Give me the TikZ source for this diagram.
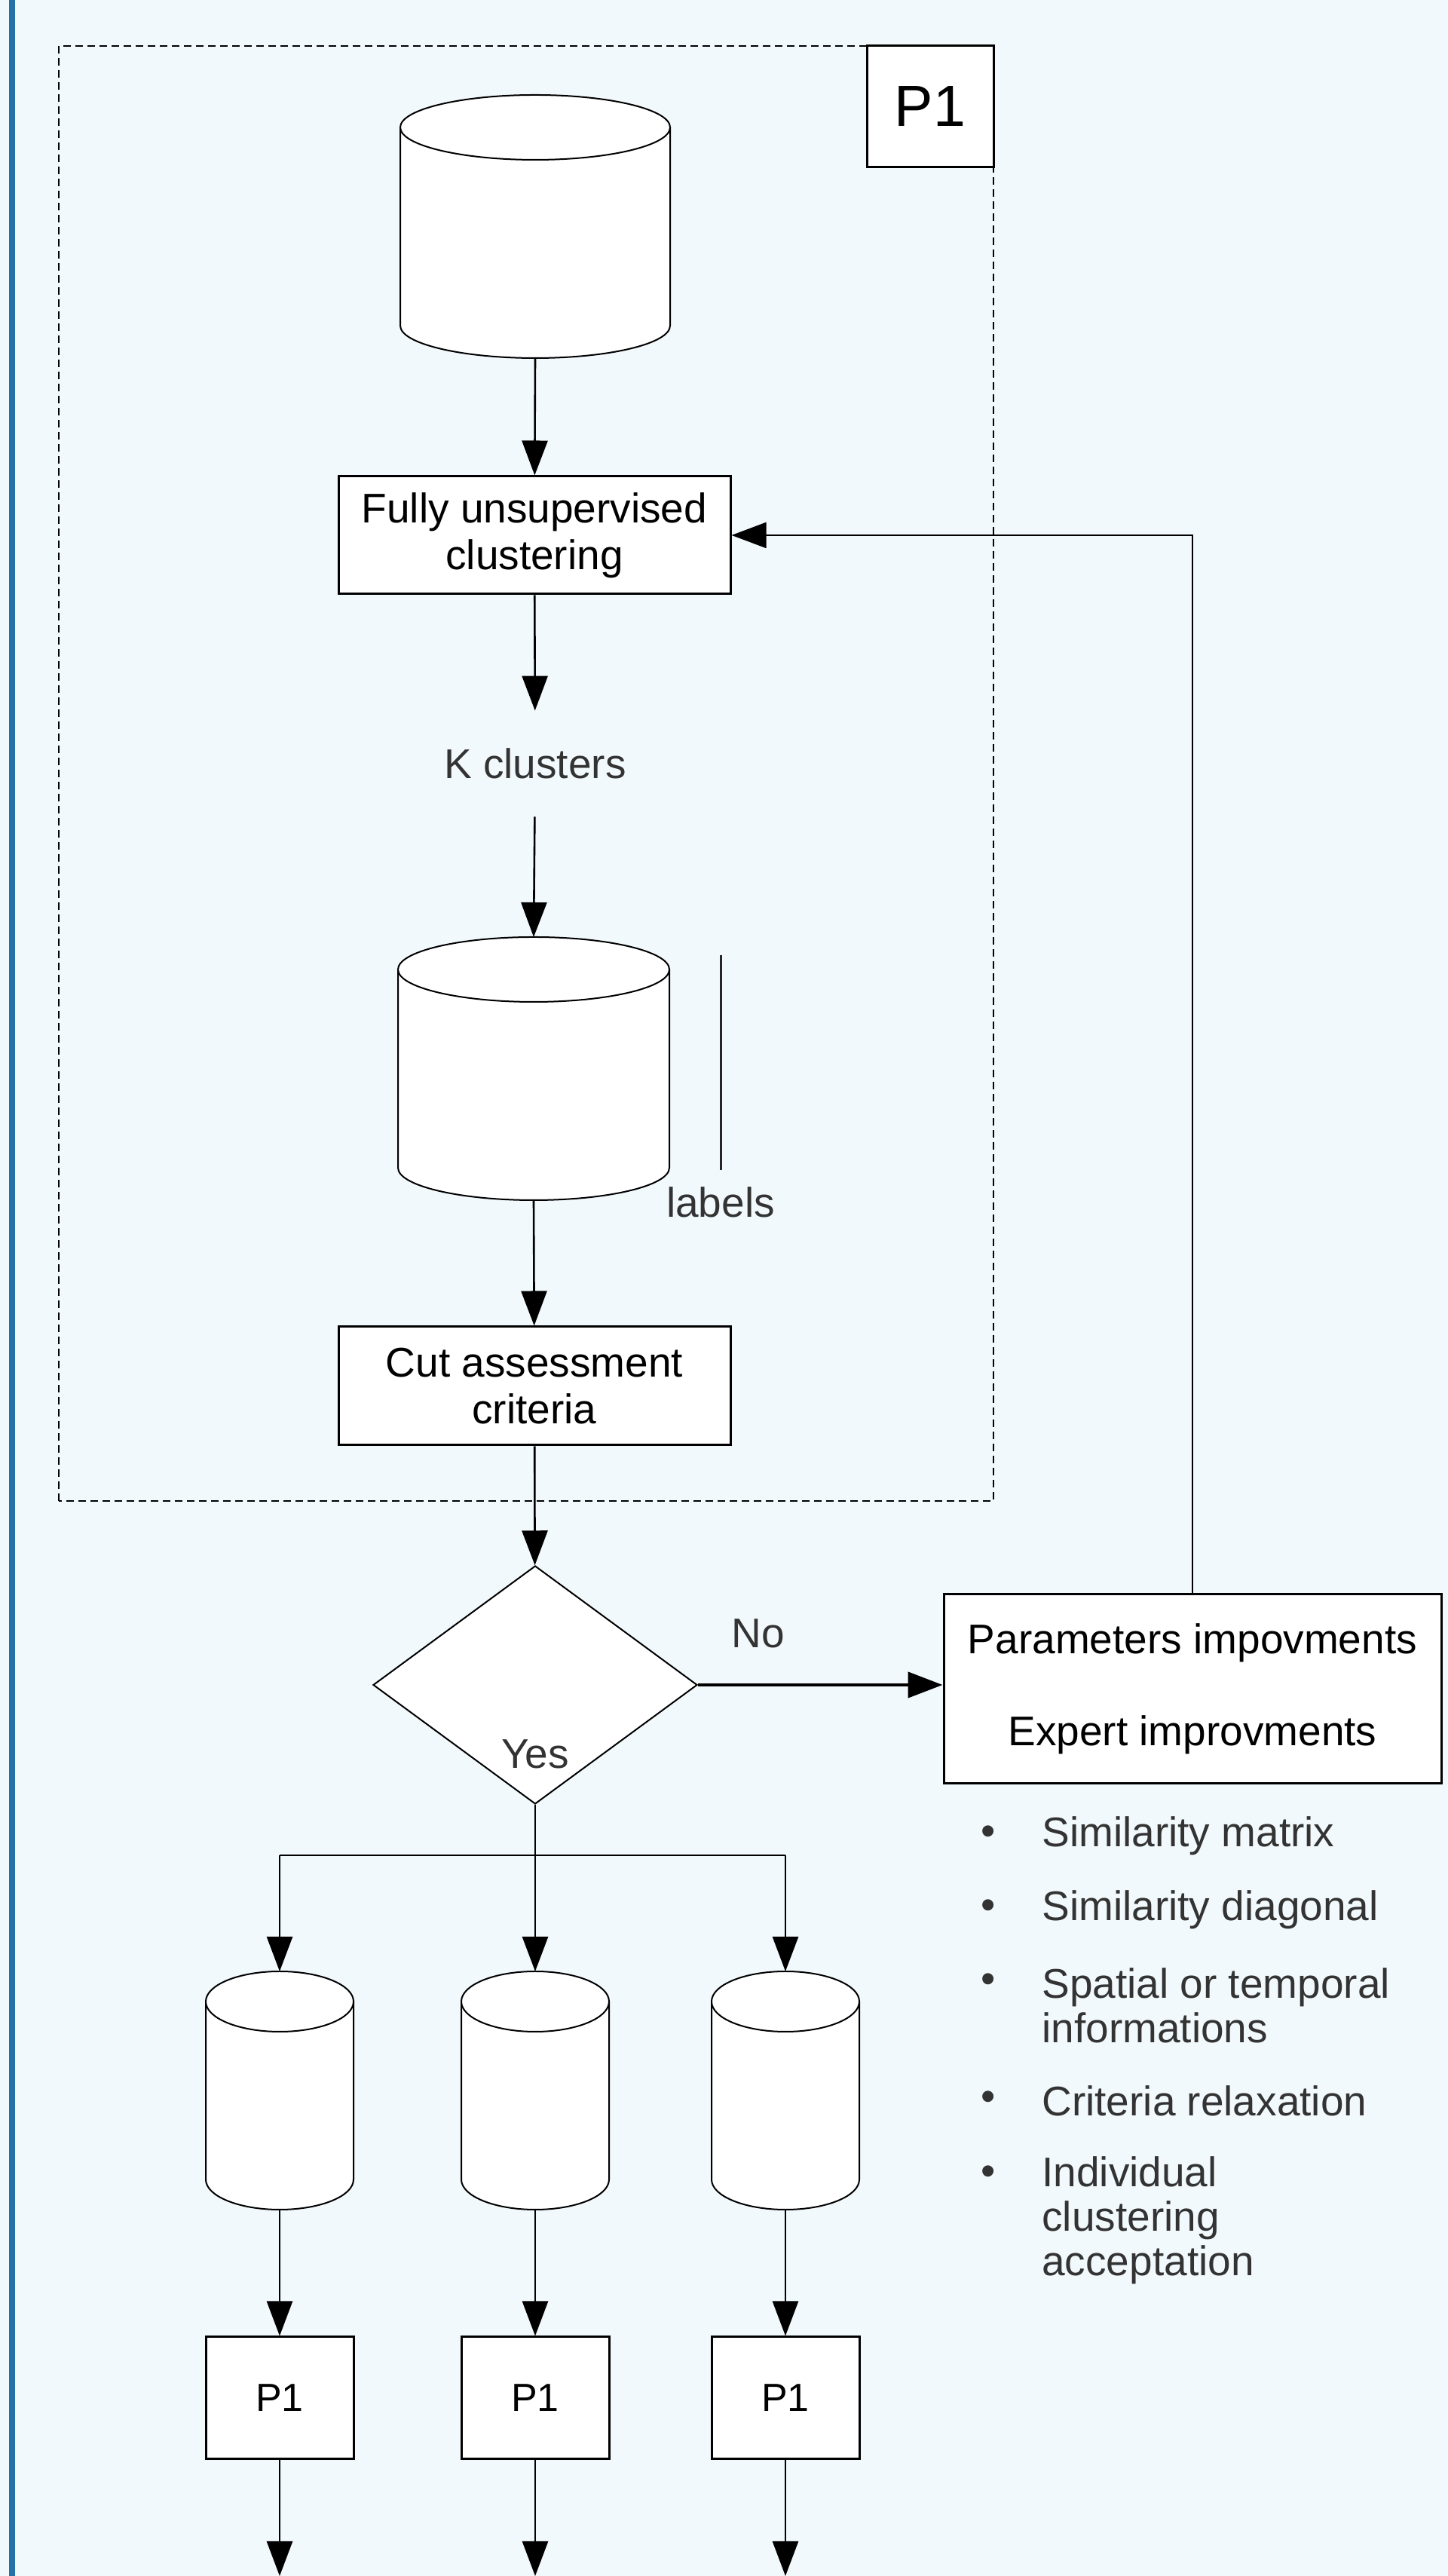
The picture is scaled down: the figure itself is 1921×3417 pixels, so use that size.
\documentclass[tikz,border=0pt]{standalone}
\usepackage{fontspec}
\setmainfont{Liberation Sans}
\usetikzlibrary{arrows.meta,shapes.geometric}
\definecolor{bg}{HTML}{F2F9FC}
\definecolor{barc}{HTML}{2470A8}
\definecolor{txt}{HTML}{333333}
% name, cx, Ytop, Ybottom, half width, ry
\newcommand\dbcyl[6]{%
  \pgfmathsetmacro\cyA{#3-#6}%
  \pgfmathsetmacro\cyB{#4+#6}%
  \pgfmathsetmacro\cxL{#2-#5}%
  \pgfmathsetmacro\cxR{#2+#5}%
  \draw[cylline] (\cxL,\cyA) -- (\cxL,\cyB) arc[start angle=180,end angle=360,x radius=#5,y radius=#6] -- (\cxR,\cyA) -- cycle;
  \draw[cylline] (#2,\cyA) ellipse[x radius=#5,y radius=#6];
  \coordinate (#1-n) at (#2,#3);
  \coordinate (#1-s) at (#2,#4);
}
\begin{document}
\begin{tikzpicture}[x=0.5pt,y=0.5pt,
  arr/.style={line width=1.3pt,-{Triangle[length=23pt,width=17pt]}},
  plain/.style={line width=1.3pt},
  boxn/.style={draw,line width=1.5pt,fill=white,align=center,font=\fontsize{27.5}{31}\selectfont,inner sep=0pt},
  ftext/.style={text=txt,font=\fontsize{27.5}{29.5}\selectfont,inner sep=0pt,align=left},
  cylline/.style={draw,line width=1pt,fill=white}]
\fill[bg] (0,0) rectangle (1921,3417);
\useasboundingbox (0,0) rectangle (1921,3417);
\fill[barc] (12,0) rectangle (20,3417);
% dashed group box
\draw[line width=1pt,dash pattern=on 5pt off 3pt] (78,1426) rectangle (1318,3356);
\node[boxn,minimum width=84pt,minimum height=80.5pt,font=\fontsize{38.5}{40}\selectfont] (ptop) at (1234,3275.5) {P1};
% main column
\dbcyl{c1}{710}{3291}{2942}{179}{43}
\node[boxn,minimum width=260pt,minimum height=78pt] (box1) at (709,2707) {Fully unsupervised\\clustering};
\node[ftext,minimum height=70pt] (kc) at (710,2404) {K clusters};
\dbcyl{c2}{708}{2174}{1825}{180}{43}
\coordinate (lt) at (956,2150);
\coordinate (lb) at (956,1865);
\draw[line width=1.5pt,black!85] (lt) -- (lb);
\node[ftext] (lab) at (956,1822) {labels};
\node[boxn,minimum width=260pt,minimum height=78.5pt] (box2) at (709,1578.5) {Cut assessment\\criteria};
\node[draw,diamond,fill=white,line width=1pt,minimum width=215pt,minimum height=158pt,inner sep=0pt] (dia) at (710,1182) {};
\node[ftext] (yes) at (710,1090) {Yes};
\node[ftext] (no) at (1006,1250) {No};
\node[boxn,minimum width=330pt,minimum height=125.5pt,font=\fontsize{27.5}{61}\selectfont] (param) at (1582,1176.5) {Parameters impovments\\Expert improvments};
% connectors main
\draw[arr] (c1-s) -- (box1);
\draw[arr] (box1) -- (kc);
\draw[arr] (kc) -- (c2-n);
\draw[arr] (c2-s) -- (box2);
\draw[arr] (box2) -- (dia);
\draw[arr,line width=2.2pt] (dia.east) -- (param.west |- dia.east);
\draw[arr,line width=1pt] (param.north) |- (box1.east);
% bullets
\node[ftext] (d1) at (1311,982) {•};
\node[ftext,anchor=west] (t1) at (1382,982) {Similarity matrix};
\node[ftext] (d2) at (1311,884) {•};
\node[ftext,anchor=west] (t2) at (1382,884) {Similarity diagonal};
\node[ftext] (d3) at (1311,786) {•};
\node[ftext,anchor=west] (t3) at (1382,757) {Spatial or temporal\\informations};
\node[ftext] (d4) at (1311,630) {•};
\node[ftext,anchor=west] (t4) at (1382,630) {Criteria relaxation};
\node[ftext] (d5) at (1311,531) {•};
\node[ftext,anchor=west] (t5) at (1382,472) {Individual\\clustering\\acceptation};
% yes branch
\coordinate (j) at (710,956);
\coordinate (jl) at (371,956);
\coordinate (jr) at (1042,956);
\draw[plain] (dia.south) -- (j);
\draw[plain] (jl) -- (jr);
\dbcyl{ca}{371}{802}{486}{98}{40}
\dbcyl{cb}{710}{802}{486}{98}{40}
\dbcyl{cc}{1042}{802}{486}{98}{40}
\draw[arr] (jl) -- (ca-n);
\draw[arr] (j) -- (cb-n);
\draw[arr] (jr) -- (cc-n);
\node[boxn,minimum width=98pt,minimum height=81pt,font=\fontsize{26}{28}\selectfont] (pa) at (371,236) {P1};
\node[boxn,minimum width=98pt,minimum height=81pt,font=\fontsize{26}{28}\selectfont] (pb) at (710,236) {P1};
\node[boxn,minimum width=98pt,minimum height=81pt,font=\fontsize{26}{28}\selectfont] (pc) at (1042,236) {P1};
\draw[arr] (ca-s) -- (pa);
\draw[arr] (cb-s) -- (pb);
\draw[arr] (cc-s) -- (pc);
\coordinate (ea) at (371,0);
\coordinate (eb) at (710,0);
\coordinate (ec) at (1042,0);
\draw[arr] (pa) -- (ea);
\draw[arr] (pb) -- (eb);
\draw[arr] (pc) -- (ec);
\end{tikzpicture}
\end{document}
